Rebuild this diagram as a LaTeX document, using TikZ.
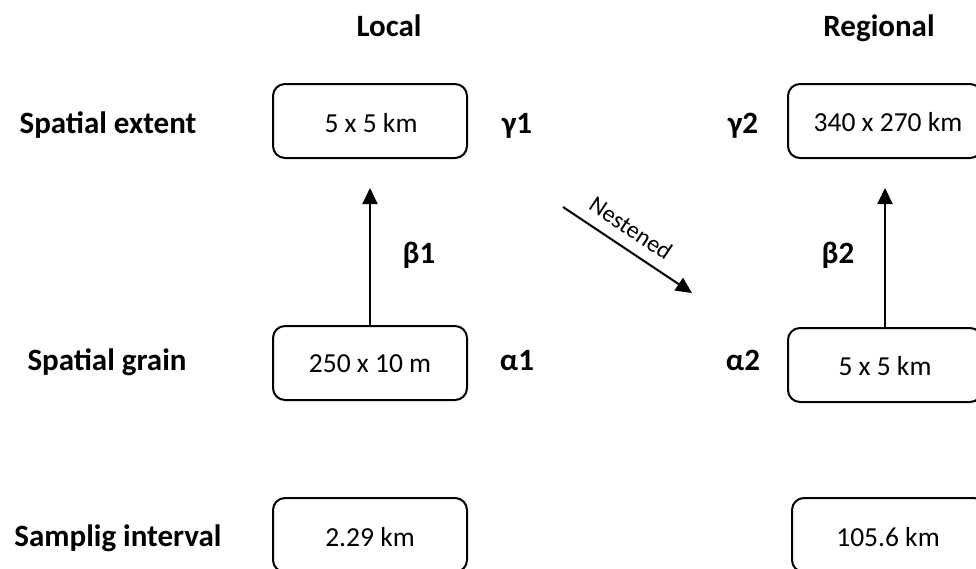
\documentclass[tikz,border=0pt]{standalone}
\usepackage{fontspec}
\setmainfont{Carlito}
\usetikzlibrary{arrows.meta}
\begin{document}
\begin{tikzpicture}[x=1pt,y=-1pt,
  valbox/.style={draw,line width=2pt,rounded corners=12pt,minimum width=194pt,minimum height=74pt,inner sep=0pt},
  valtxt/.style={anchor=base,inner sep=0pt,font=\fontsize{27.5}{30}\selectfont},
  boldlab/.style={anchor=base,inner sep=0pt,font=\bfseries\fontsize{31}{34}\selectfont},
  arr/.style={line width=2pt,-{Triangle[length=16pt,width=15pt]}}]
\useasboundingbox (0,0) rectangle (976,568);
\clip (0,0) rectangle (976,568);

% column headings
\node[boldlab] (hloc) at (389,36) {Local};
\node[boldlab] (hreg) at (879,36) {Regional};

% row headings
\node[boldlab] (rext) at (108,133) {Spatial extent};
\node[boldlab] (rgrain) at (107,370) {Spatial grain};
\node[boldlab] (rint) at (118,546) {Samplig interval};

% value boxes
\node[valbox] (e1) at (370,121) {};
\node[valbox] (g1) at (370,363) {};
\node[valbox] (i1) at (370,535) {};
\node[valbox] (e2) at (885,121) {};
\node[valbox] (g2) at (885,365) {};
\node[valbox] (i2) at (889,535) {};

% values inside the boxes
\node[valtxt] (e1t) at (371,132) {5 x 5 km};
\node[valtxt] (g1t) at (370,372) {250 x 10 m};
\node[valtxt] (i1t) at (370,546) {2.29 km};
\node[valtxt] (e2t) at (888,131) {340 x 270 km};
\node[valtxt] (g2t) at (885,375) {5 x 5 km};
\node[valtxt] (i2t) at (888,546) {105.6 km};

% diversity indices
\node[boldlab] (gam1) at (517,133) {γ1};
\node[boldlab] (gam2) at (743,133) {γ2};
\node[boldlab] (alp1) at (517,370) {α1};
\node[boldlab] (alp2) at (743,370) {α2};
\node[boldlab] (bet1) at (419,263) {β1};
\node[boldlab] (bet2) at (838,263) {β2};

% scaling arrows from grain up to extent
\draw[arr,shorten >=29pt] (g1.north) -- (e1.south);
\draw[arr,shorten >=29pt] (g2.north) -- (e2.south);

% nesting arrow from local to regional
\coordinate (ns) at (563,207);
\coordinate (ne) at (692,293);
\draw[arr] (ns) -- (ne) node[pos=0.44,above=12pt,sloped,anchor=base,inner sep=0pt,font=\fontsize{24}{26}\selectfont] {Nestened};
\end{tikzpicture}
\end{document}
